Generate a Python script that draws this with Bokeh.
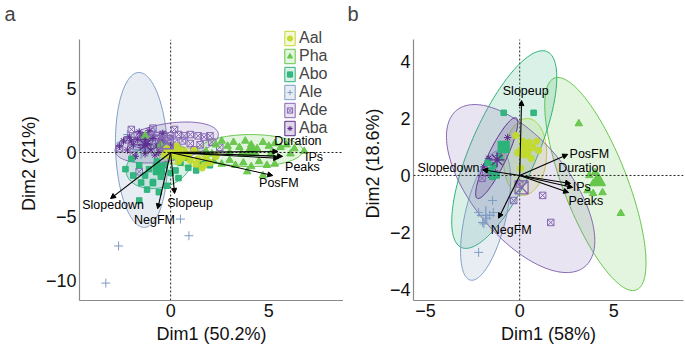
import numpy as np
from bokeh.plotting import figure
from bokeh.models import (Range1d, Span, Arrow, NormalHead, ColumnDataSource,
                          Legend, LegendItem, FixedTicker)
from bokeh.layouts import row
from bokeh.embed import file_html
from bokeh.resources import INLINE
from bokeh.core.properties import value

FONT = "Liberation Sans"

groups = ["Aal", "Pha", "Abo", "Ale", "Ade", "Aba"]
colors = ["#c2da2e", "#66c64b", "#2cb37a", "#7f9dc4", "#8567b3", "#5b2d8c"]
markers = ["circle", "triangle", "square", "cross", "square_x", "asterisk"]

# ---------------- Panel a: individuals ----------------
a_aal_x = [0.1, 0.3, 0.5, 0.0, 0.6, 0.9, 1.2, 1.0, 1.4, 1.6, 1.7, 2.0, 0.3, -0.2, 0.7, 1.3, 0.4, 2.3, 1.8, -0.3]
a_aal_y = [0.1, -0.1, 0.2, -0.3, -0.4, -0.2, 0.15, -0.6, -0.5, -1.2, -1.0, -0.8, 0.5, 0.3, 0.05, -0.9, -0.7, -0.3, -0.4, -0.2]
a_pha_x = [2.3, 2.6, 2.9, 3.2, 3.5, 3.8, 4.1, 4.4, 4.7, 5.0, 5.3, 5.6, 5.9, 6.3, 6.8,
           1.8, 2.1, 3.0, 3.6, 4.3, 5.1, 6.1,
           2.2, 2.6, 3.0, 3.3, 3.7, 4.1, 4.5, 4.9, 5.3, 4.7, 3.9, -1.3, -0.5]
a_pha_y = [0.6, 0.9, 0.5, 0.8, 0.4, 0.9, 0.6, 0.3, 0.8, 0.5, 0.7, 0.4, 0.6, 0.3, 0.1,
           0.1, -0.1, 0.0, -0.1, 0.0, -0.1, -0.1,
           -0.7, -0.9, -0.6, -1.0, -0.8, -1.1, -0.7, -1.0, -0.9, -1.8, -1.5, 1.3, 0.6]
a_abo_x = [-1.9, -1.3, -0.9, -1.6, 0.25, -1.5, -0.9, -0.5, -1.1, -0.3, 0.0, 0.5, 0.9, 1.3,
           -0.7, -1.6, -2.0, -0.2, 0.4, -1.2, -0.6, 0.8, 1.6, -2.3, 0.2, 2.0, 1.8]
a_abo_y = [-1.8, -1.8, -2.3, -3.75, -1.4, -2.35, -2.4, -1.9, -1.3, -1.0, -1.6, -0.8, -1.2, -1.4,
           -0.7, -1.0, -0.5, -2.6, -2.0, -2.9, -3.1, -0.4, -0.9, -1.3, -0.3, -1.0, -0.6]
a_ale_x = [-3.3, -2.65, 0.5, 0.93, -1.5, -1.9, -1.0, -2.2, -1.3, -0.8, -2.5]
a_ale_y = [-10.2, -7.3, -5.2, -6.5, 1.2, 0.5, 0.9, 1.4, 0.2, 1.6, 0.8]
a_ade_x = [-2.2, -1.7, -1.3, -1.0, -0.7, -0.4, 0.0, 0.4, 0.7, 1.0, 1.4, 1.7, 2.0,
           -1.5, -1.1, -0.6, -0.2, 0.2, 0.6, 1.0, 1.5, 2.1, 2.5,
           -2.6, -1.9, -1.2, -0.5, 0.3, 1.2, -1.6, -2.0, -0.9, 0.2]
a_ade_y = [1.0, 1.4, 1.3, 1.4, 1.3, 1.4, 1.3, 1.4, 1.3, 1.4, 1.3, 1.2, 1.3,
           0.8, 0.9, 0.8, 0.9, 0.8, 0.9, 0.7, 0.6, 0.8, 0.4,
           0.3, -0.2, 0.3, 0.3, 0.4, 0.2, -1.5, 1.8, 1.9, 1.8]
a_aba_x = [-2.4, -2.1, -1.9, -1.7, -1.5, -1.4, -1.2, -1.0, -0.9, -0.7, -0.5, -0.3,
           -2.2, -1.8, -1.3, -0.8, -1.6, -1.1, -2.6, -0.4, -2.0, -1.3, -0.6, 0.0]
a_aba_y = [0.9, 1.2, 0.6, 1.0, 0.4, 1.3, 0.7, 0.2, 1.1, 0.5, 0.9, 0.3,
           0.2, -0.3, -0.1, -0.2, 1.6, 1.7, 0.5, 1.5, 0.9, 1.0, 0.0, 0.5]
a_cent_x = [0.5, 4.1, -0.6, -1.5, -0.2, -1.3]
a_cent_y = [-0.2, 0.1, -1.3, 0.2, 0.8, 0.6]

# concentration ellipses (centre, half-extent in x / y, correlation)
a_ell_cx = [0.6, 4.08, -0.61, -1.48, -0.2, -1.22]
a_ell_cy = [-0.3, 0.15, -1.02, 0.2, 0.78, 0.78]
a_ell_ex = [1.3, 2.65, 1.66, 1.33, 2.63, 0.95]
a_ell_ey = [0.8, 1.25, 1.8, 6.05, 1.6, 0.6]
a_ell_r = [-0.4, 0.0, 0.2, -0.1, 0.38, 0.3]

# variables (arrows)
load_names = ["Duration", "IPs", "Peaks", "PosFM", "Slopedown", "NegFM", "Slopeup"]
a_load_x = [5.46, 5.7, 5.5, 5.2, -3.06, -0.66, 0.2]
a_load_y = [0.08, -0.3, -0.45, -1.8, -3.6, -4.4, -3.2]
a_lab_x = [6.48, 7.3, 6.71, 5.51, -2.93, -0.82, 0.99]
a_lab_y = [0.86, -0.39, -1.17, -2.42, -4.14, -5.31, -3.98]

# ---------------- Panel b ----------------
b_aal_x = [-0.2, 0.5, 0.7, 0.3, 1.0, 0.05, -0.1, 0.15, 0.6, 0.35, 0.9]
b_aal_y = [1.4, 1.16, 0.98, 1.05, 0.88, 0.25, 0.8, 1.2, 0.6, 0.75, 1.2]
b_pha_x = [3.14, 3.7, 3.9, 4.4, 3.6, 3.9, 5.37, 4.2, 4.0]
b_pha_y = [1.82, 0.0, -0.28, -0.6, -0.53, -0.63, -1.33, -0.1, 0.1]
b_abo_x = [-0.85, 0.74, -1.06, -1.38, -1.54, -1.22, -1.7, -1.45]
b_abo_y = [2.2, 2.2, 0.63, 0.35, 0.18, 0.0, 0.45, -0.05]
b_ale_x = [-1.44, -2.18, -1.6, -1.97, -1.9, -2.18, -1.4, -1.75]
b_ale_y = [-0.88, -1.3, -1.4, -1.65, -1.7, -2.7, -1.3, -1.5]
b_ade_x = [-0.32, 1.22, 1.65, -2.0, -1.8, 0.0]
b_ade_y = [-0.88, -0.7, -1.65, -0.1, 0.1, -0.3]
b_aba_x = [-0.64, -1.65, -1.45, -1.3, -1.1, -1.9, -1.55]
b_aba_y = [1.33, 0.6, 0.35, 0.1, 0.7, 0.3, 0.0]
b_cent_x = [0.25, 4.15, -0.85, -1.8, 0.1, -1.2]
b_cent_y = [0.85, -0.2, 1.0, -1.4, -0.42, 0.55]

b_ell_cx = [0.29, 4.02, -0.82, -1.81, 0.05, -1.22]
b_ell_cy = [0.65, -0.3, 0.91, -1.4, -0.46, 0.61]
b_ell_ex = [1.14, 2.69, 2.79, 1.33, 3.94, 1.12]
b_ell_ey = [1.35, 3.74, 3.47, 2.28, 2.95, 1.42]
b_ell_r = [0.1, -0.74, 0.73, 0.55, -0.62, 0.88]

b_load_x = [2.7, 2.82, 2.6, 2.55, -1.97, -1.12, 0.1]
b_load_y = [-0.28, -0.42, -0.6, 0.74, 0.2, -1.5, 2.63]
b_lab_x = [3.3, 3.3, 3.51, 3.7, -3.78, -0.45, 0.32]
b_lab_y = [0.25, -0.39, -0.88, 0.77, 0.25, -1.93, 2.98]

MSIZE = {"circle": 6.5, "triangle": 7.5, "square": 5.5, "cross": 9, "square_x": 6.5, "asterisk": 7.5}
OPEN = {"cross", "square_x", "asterisk"}


def ellipse_pts(cx, cy, ex, ey, r, n=160):
    t = np.linspace(0, 2 * np.pi, n)
    xs = cx + ex * np.cos(t)
    ys = cy + ey * (r * np.cos(t) + np.sqrt(1 - r * r) * np.sin(t))
    return xs, ys


def make_panel(letter, xr, yr, ytop_axis, width, mbl, mbr, xticks, yticks, xlabel, ylabel,
               pts, cents, ell, loads, labs, with_legend):
    p = figure(width=width, height=348, x_range=Range1d(*xr), y_range=Range1d(*yr),
               output_backend="svg", toolbar_location=None,
               min_border_left=mbl, min_border_right=mbr, min_border_top=26, min_border_bottom=48)
    p.grid.visible = False
    p.outline_line_color = None
    p.background_fill_color = "white"
    p.border_fill_color = "white"

    p.title.text = letter
    p.title.text_font = FONT
    p.title.text_font_size = "20px"
    p.title.text_font_style = "normal"
    p.title.align = "left"
    p.title.vertical_align = "top"
    p.title.offset = -(mbl - 4)
    p.title.standoff = 0

    for ax, ticks, lab in ((p.xaxis, xticks, xlabel), (p.yaxis, yticks, ylabel)):
        ax.ticker = FixedTicker(ticks=ticks)
        ax.major_label_overrides = {t: ("\u2212" + str(abs(t)) if t < 0 else str(t)) for t in ticks}
        ax.axis_label = lab
        ax.axis_label_text_font = FONT
        ax.axis_label_text_font_size = "18px"
        ax.axis_label_text_font_style = "normal"
        ax.axis_label_text_color = "#111111"
        ax.major_label_text_font = FONT
        ax.major_label_text_font_size = "18px"
        ax.major_label_text_color = "#111111"
        ax.axis_line_color = "#8a8a8a"
        ax.axis_line_width = 1.2
        ax.major_tick_line_color = None
        ax.minor_tick_line_color = None
        ax.major_tick_out = 0
        ax.major_tick_in = 0
        ax.major_label_standoff = 3
        ax.axis_label_standoff = 4
    p.yaxis.bounds = (yr[0], ytop_axis)

    p.add_layout(Span(location=0, dimension="width", line_color="#222222", line_dash="2 2", line_width=1))
    p.segment(x0=[0], y0=[yr[0]], x1=[0], y1=[ytop_axis], line_color="#222222",
              line_dash="2 2", line_width=1)

    cx, cy, ex, ey, rr = ell
    patches = []
    for i, g in enumerate(groups):
        xs, ys = ellipse_pts(cx[i], cy[i], ex[i], ey[i], rr[i])
        pr = p.patch(xs, ys, fill_color=colors[i], fill_alpha=0.18,
                     line_color=colors[i], line_width=1)
        patches.append(pr)

    order = [3, 4, 5, 2, 1, 0]
    scat = {}
    for i in order:
        xs, ys = pts[i]
        m = markers[i]
        fa = 0.0 if m in OPEN else 0.95
        sr = p.scatter(xs, ys, marker=m, size=MSIZE[m], fill_color=colors[i], fill_alpha=fa,
                       line_color=colors[i], line_width=1.0)
        scat[i] = sr
    for i in order:
        m = markers[i]
        fa = 0.0 if m in OPEN else 1.0
        p.scatter([cents[0][i]], [cents[1][i]], marker=m, size=MSIZE[m] * 2.0,
                  fill_color=colors[i], fill_alpha=fa, line_color=colors[i], line_width=1.3)

    lx, ly = loads
    src = ColumnDataSource(dict(x=lx, y=ly))
    p.add_layout(Arrow(end=NormalHead(size=5, fill_color="black", line_color="black", line_width=1),
                       x_start=0, y_start=0, x_end="x", y_end="y", source=src,
                       line_color="black", line_width=1.1))
    tx, ty = labs
    tsrc = ColumnDataSource(dict(x=tx, y=ty, t=load_names))
    p.text(x="x", y="y", text="t", source=tsrc, text_align="center", text_baseline="middle",
           text_font=value(FONT), text_font_size="12.5px", text_color="black")

    if with_legend:
        items = [LegendItem(label=g, renderers=[patches[i], scat[i]]) for i, g in enumerate(groups)]
        leg = Legend(items=items, location=(width - mbl - mbr - 60, 163),
                     label_text_font=FONT, label_text_font_size="16px",
                     glyph_width=13, glyph_height=18, label_height=18, spacing=0,
                     padding=0, margin=0, label_standoff=3,
                     background_fill_alpha=0, border_line_alpha=0)
        p.add_layout(leg)
    return p


pa = make_panel("a", (-4.64, 8.8), (-11.56, 9.84), 8.8, 343, 79, 0, [0, 5], [-10, -5, 0, 5],
                "Dim1 (50.2%)", "Dim2 (21%)",
                [(a_aal_x, a_aal_y), (a_pha_x, a_pha_y), (a_abo_x, a_abo_y),
                 (a_ale_x, a_ale_y), (a_ade_x, a_ade_y), (a_aba_x, a_aba_y)],
                (a_cent_x, a_cent_y),
                (a_ell_cx, a_ell_cy, a_ell_ex, a_ell_ey, a_ell_r),
                (a_load_x, a_load_y), (a_lab_x, a_lab_y), True)

pb = make_panel("b", (-5.64, 8.7), (-4.39, 5.23), 4.77, 342, 70, 2, [-5, 0, 5], [-4, -2, 0, 2, 4],
                "Dim1 (58%)", "Dim2 (18.6%)",
                [(b_aal_x, b_aal_y), (b_pha_x, b_pha_y), (b_abo_x, b_abo_y),
                 (b_ale_x, b_ale_y), (b_ade_x, b_ade_y), (b_aba_x, b_aba_y)],
                (b_cent_x, b_cent_y),
                (b_ell_cx, b_ell_cy, b_ell_ex, b_ell_ey, b_ell_r),
                (b_load_x, b_load_y), (b_lab_x, b_lab_y), False)

layout = row(pa, pb)
open("out.html", "w").write(file_html(layout, INLINE))
